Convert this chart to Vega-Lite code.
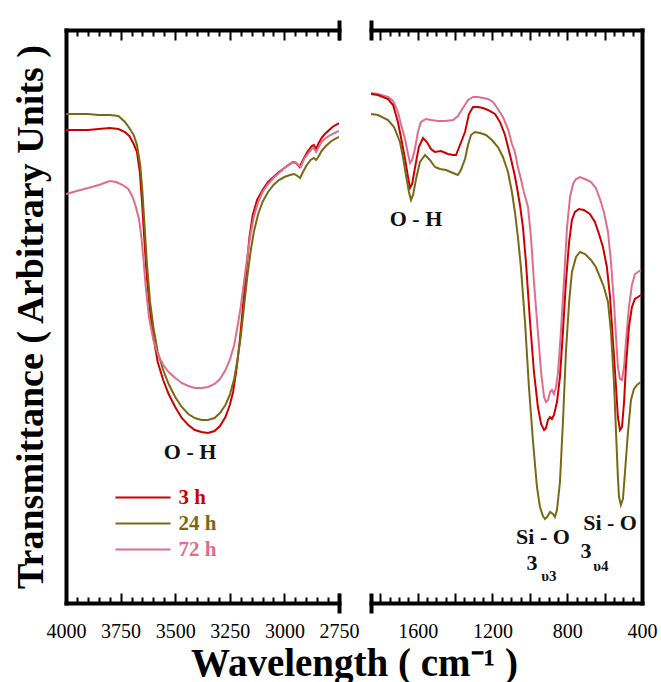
{
  "$schema": "https://vega.github.io/schema/vega-lite/v6.json",
  "background": "white",
  "padding": {"left": 11, "top": 18, "right": 5, "bottom": 0},
  "spacing": 32,
  "bounds": "flush",
  "config": {"view": {"stroke": null}, "font": "Liberation Serif", "axis": {"grid": false, "labelFont": "Liberation Serif", "titleFont": "Liberation Serif"}, "legend": {"labelFont": "Liberation Serif"}},
  "datasets": {
    "left": [
      {"s":"3 h","w":4000,"t":473},{"s":"3 h","w":3950,"t":473},{"s":"3 h","w":3900,"t":473},{"s":"3 h","w":3850,"t":474},{"s":"3 h","w":3800,"t":475},{"s":"3 h","w":3760,"t":474},{"s":"3 h","w":3730,"t":471},{"s":"3 h","w":3710,"t":467},{"s":"3 h","w":3690,"t":459},{"s":"3 h","w":3675,"t":451},{"s":"3 h","w":3662,"t":431},{"s":"3 h","w":3652,"t":401},{"s":"3 h","w":3642,"t":366},{"s":"3 h","w":3630,"t":326},{"s":"3 h","w":3615,"t":291},{"s":"3 h","w":3600,"t":266},{"s":"3 h","w":3580,"t":241},{"s":"3 h","w":3555,"t":223},{"s":"3 h","w":3530,"t":209},{"s":"3 h","w":3500,"t":196},{"s":"3 h","w":3470,"t":185},{"s":"3 h","w":3440,"t":178},{"s":"3 h","w":3410,"t":173},{"s":"3 h","w":3380,"t":171},{"s":"3 h","w":3350,"t":170},{"s":"3 h","w":3320,"t":172},{"s":"3 h","w":3295,"t":177},{"s":"3 h","w":3270,"t":186},{"s":"3 h","w":3250,"t":198},{"s":"3 h","w":3235,"t":211},{"s":"3 h","w":3220,"t":233},{"s":"3 h","w":3205,"t":261},{"s":"3 h","w":3190,"t":296},{"s":"3 h","w":3175,"t":331},{"s":"3 h","w":3160,"t":366},{"s":"3 h","w":3145,"t":388},{"s":"3 h","w":3125,"t":403},{"s":"3 h","w":3100,"t":413},{"s":"3 h","w":3075,"t":421},{"s":"3 h","w":3050,"t":426},{"s":"3 h","w":3025,"t":431},{"s":"3 h","w":3000,"t":435},{"s":"3 h","w":2975,"t":439},{"s":"3 h","w":2960,"t":441},{"s":"3 h","w":2945,"t":440},{"s":"3 h","w":2930,"t":436},{"s":"3 h","w":2915,"t":443},{"s":"3 h","w":2895,"t":451},{"s":"3 h","w":2875,"t":457},{"s":"3 h","w":2865,"t":458},{"s":"3 h","w":2855,"t":454},{"s":"3 h","w":2845,"t":459},{"s":"3 h","w":2830,"t":465},{"s":"3 h","w":2815,"t":469},{"s":"3 h","w":2800,"t":472},{"s":"3 h","w":2780,"t":476},{"s":"3 h","w":2750,"t":480},
      {"s":"24 h","w":4000,"t":489},{"s":"24 h","w":3950,"t":489},{"s":"24 h","w":3900,"t":489},{"s":"24 h","w":3850,"t":488},{"s":"24 h","w":3800,"t":488},{"s":"24 h","w":3760,"t":487},{"s":"24 h","w":3730,"t":481},{"s":"24 h","w":3710,"t":475},{"s":"24 h","w":3690,"t":468},{"s":"24 h","w":3675,"t":458},{"s":"24 h","w":3660,"t":438},{"s":"24 h","w":3650,"t":411},{"s":"24 h","w":3640,"t":376},{"s":"24 h","w":3630,"t":341},{"s":"24 h","w":3615,"t":301},{"s":"24 h","w":3600,"t":276},{"s":"24 h","w":3580,"t":251},{"s":"24 h","w":3555,"t":233},{"s":"24 h","w":3530,"t":219},{"s":"24 h","w":3500,"t":206},{"s":"24 h","w":3470,"t":196},{"s":"24 h","w":3440,"t":189},{"s":"24 h","w":3410,"t":185},{"s":"24 h","w":3380,"t":183},{"s":"24 h","w":3350,"t":183},{"s":"24 h","w":3320,"t":185},{"s":"24 h","w":3295,"t":190},{"s":"24 h","w":3270,"t":198},{"s":"24 h","w":3250,"t":208},{"s":"24 h","w":3230,"t":224},{"s":"24 h","w":3215,"t":243},{"s":"24 h","w":3200,"t":266},{"s":"24 h","w":3185,"t":296},{"s":"24 h","w":3170,"t":326},{"s":"24 h","w":3155,"t":351},{"s":"24 h","w":3140,"t":371},{"s":"24 h","w":3120,"t":389},{"s":"24 h","w":3100,"t":401},{"s":"24 h","w":3075,"t":411},{"s":"24 h","w":3050,"t":418},{"s":"24 h","w":3025,"t":423},{"s":"24 h","w":3000,"t":426},{"s":"24 h","w":2975,"t":428},{"s":"24 h","w":2955,"t":429},{"s":"24 h","w":2940,"t":427},{"s":"24 h","w":2928,"t":425},{"s":"24 h","w":2915,"t":431},{"s":"24 h","w":2900,"t":437},{"s":"24 h","w":2880,"t":443},{"s":"24 h","w":2865,"t":445},{"s":"24 h","w":2855,"t":443},{"s":"24 h","w":2845,"t":446},{"s":"24 h","w":2830,"t":452},{"s":"24 h","w":2810,"t":457},{"s":"24 h","w":2790,"t":461},{"s":"24 h","w":2770,"t":464},{"s":"24 h","w":2750,"t":466},
      {"s":"72 h","w":4000,"t":409},{"s":"72 h","w":3950,"t":412},{"s":"72 h","w":3900,"t":415},{"s":"72 h","w":3850,"t":418},{"s":"72 h","w":3800,"t":422},{"s":"72 h","w":3770,"t":421},{"s":"72 h","w":3740,"t":418},{"s":"72 h","w":3715,"t":414},{"s":"72 h","w":3695,"t":406},{"s":"72 h","w":3680,"t":396},{"s":"72 h","w":3665,"t":383},{"s":"72 h","w":3655,"t":366},{"s":"72 h","w":3645,"t":343},{"s":"72 h","w":3635,"t":316},{"s":"72 h","w":3620,"t":286},{"s":"72 h","w":3600,"t":263},{"s":"72 h","w":3580,"t":249},{"s":"72 h","w":3555,"t":238},{"s":"72 h","w":3530,"t":231},{"s":"72 h","w":3500,"t":225},{"s":"72 h","w":3470,"t":220},{"s":"72 h","w":3440,"t":217},{"s":"72 h","w":3410,"t":215},{"s":"72 h","w":3380,"t":215},{"s":"72 h","w":3350,"t":216},{"s":"72 h","w":3320,"t":219},{"s":"72 h","w":3295,"t":224},{"s":"72 h","w":3270,"t":233},{"s":"72 h","w":3250,"t":243},{"s":"72 h","w":3230,"t":258},{"s":"72 h","w":3215,"t":276},{"s":"72 h","w":3200,"t":296},{"s":"72 h","w":3185,"t":321},{"s":"72 h","w":3170,"t":346},{"s":"72 h","w":3155,"t":369},{"s":"72 h","w":3140,"t":386},{"s":"72 h","w":3120,"t":401},{"s":"72 h","w":3100,"t":411},{"s":"72 h","w":3075,"t":419},{"s":"72 h","w":3050,"t":425},{"s":"72 h","w":3025,"t":430},{"s":"72 h","w":3000,"t":435},{"s":"72 h","w":2980,"t":438},{"s":"72 h","w":2965,"t":440},{"s":"72 h","w":2950,"t":441},{"s":"72 h","w":2935,"t":438},{"s":"72 h","w":2925,"t":436},{"s":"72 h","w":2910,"t":444},{"s":"72 h","w":2890,"t":450},{"s":"72 h","w":2875,"t":454},{"s":"72 h","w":2865,"t":455},{"s":"72 h","w":2855,"t":451},{"s":"72 h","w":2845,"t":455},{"s":"72 h","w":2830,"t":461},{"s":"72 h","w":2810,"t":465},{"s":"72 h","w":2790,"t":468},{"s":"72 h","w":2770,"t":470},{"s":"72 h","w":2750,"t":472}
    ],
    "right": [
      {"s":"72 h","w":1850,"t":510},{"s":"72 h","w":1813,"t":509},{"s":"72 h","w":1759,"t":506},{"s":"72 h","w":1732,"t":502},{"s":"72 h","w":1706,"t":491},{"s":"72 h","w":1690,"t":479},{"s":"72 h","w":1668,"t":464},{"s":"72 h","w":1652,"t":449},{"s":"72 h","w":1641,"t":440},{"s":"72 h","w":1630,"t":443},{"s":"72 h","w":1615,"t":454},{"s":"72 h","w":1599,"t":471},{"s":"72 h","w":1583,"t":481},{"s":"72 h","w":1556,"t":484},{"s":"72 h","w":1529,"t":483},{"s":"72 h","w":1492,"t":482},{"s":"72 h","w":1454,"t":482},{"s":"72 h","w":1411,"t":483},{"s":"72 h","w":1385,"t":487},{"s":"72 h","w":1358,"t":495},{"s":"72 h","w":1331,"t":503},{"s":"72 h","w":1304,"t":506},{"s":"72 h","w":1278,"t":506},{"s":"72 h","w":1251,"t":505},{"s":"72 h","w":1224,"t":504},{"s":"72 h","w":1197,"t":501},{"s":"72 h","w":1171,"t":494},{"s":"72 h","w":1144,"t":486},{"s":"72 h","w":1117,"t":474},{"s":"72 h","w":1096,"t":459},{"s":"72 h","w":1080,"t":451},{"s":"72 h","w":1064,"t":436},{"s":"72 h","w":1048,"t":424},{"s":"72 h","w":1032,"t":411},{"s":"72 h","w":1010,"t":396},{"s":"72 h","w":994,"t":366},{"s":"72 h","w":978,"t":321},{"s":"72 h","w":957,"t":271},{"s":"72 h","w":940,"t":231},{"s":"72 h","w":924,"t":206},{"s":"72 h","w":914,"t":201},{"s":"72 h","w":903,"t":203},{"s":"72 h","w":892,"t":211},{"s":"72 h","w":882,"t":213},{"s":"72 h","w":871,"t":209},{"s":"72 h","w":860,"t":216},{"s":"72 h","w":849,"t":231},{"s":"72 h","w":834,"t":271},{"s":"72 h","w":818,"t":321},{"s":"72 h","w":801,"t":376},{"s":"72 h","w":785,"t":406},{"s":"72 h","w":769,"t":419},{"s":"72 h","w":753,"t":424},{"s":"72 h","w":732,"t":426},{"s":"72 h","w":705,"t":424},{"s":"72 h","w":673,"t":421},{"s":"72 h","w":647,"t":415},{"s":"72 h","w":625,"t":404},{"s":"72 h","w":604,"t":391},{"s":"72 h","w":582,"t":371},{"s":"72 h","w":566,"t":341},{"s":"72 h","w":550,"t":301},{"s":"72 h","w":539,"t":266},{"s":"72 h","w":529,"t":236},{"s":"72 h","w":518,"t":224},{"s":"72 h","w":507,"t":223},{"s":"72 h","w":496,"t":236},{"s":"72 h","w":486,"t":261},{"s":"72 h","w":470,"t":296},{"s":"72 h","w":454,"t":318},{"s":"72 h","w":438,"t":329},{"s":"72 h","w":422,"t":331},{"s":"72 h","w":405,"t":333},
      {"s":"3 h","w":1850,"t":509},{"s":"3 h","w":1813,"t":508},{"s":"3 h","w":1759,"t":504},{"s":"3 h","w":1732,"t":498},{"s":"3 h","w":1706,"t":481},{"s":"3 h","w":1690,"t":466},{"s":"3 h","w":1668,"t":444},{"s":"3 h","w":1652,"t":426},{"s":"3 h","w":1641,"t":415},{"s":"3 h","w":1630,"t":419},{"s":"3 h","w":1609,"t":441},{"s":"3 h","w":1594,"t":456},{"s":"3 h","w":1572,"t":465},{"s":"3 h","w":1551,"t":461},{"s":"3 h","w":1529,"t":454},{"s":"3 h","w":1508,"t":451},{"s":"3 h","w":1476,"t":452},{"s":"3 h","w":1438,"t":449},{"s":"3 h","w":1411,"t":448},{"s":"3 h","w":1395,"t":448},{"s":"3 h","w":1374,"t":458},{"s":"3 h","w":1347,"t":471},{"s":"3 h","w":1326,"t":489},{"s":"3 h","w":1304,"t":496},{"s":"3 h","w":1278,"t":496},{"s":"3 h","w":1251,"t":495},{"s":"3 h","w":1224,"t":493},{"s":"3 h","w":1187,"t":489},{"s":"3 h","w":1160,"t":481},{"s":"3 h","w":1133,"t":468},{"s":"3 h","w":1117,"t":456},{"s":"3 h","w":1101,"t":444},{"s":"3 h","w":1085,"t":431},{"s":"3 h","w":1074,"t":421},{"s":"3 h","w":1053,"t":398},{"s":"3 h","w":1037,"t":376},{"s":"3 h","w":1021,"t":341},{"s":"3 h","w":999,"t":281},{"s":"3 h","w":978,"t":231},{"s":"3 h","w":957,"t":196},{"s":"3 h","w":940,"t":179},{"s":"3 h","w":924,"t":173},{"s":"3 h","w":914,"t":175},{"s":"3 h","w":903,"t":183},{"s":"3 h","w":892,"t":186},{"s":"3 h","w":882,"t":184},{"s":"3 h","w":871,"t":188},{"s":"3 h","w":855,"t":201},{"s":"3 h","w":839,"t":226},{"s":"3 h","w":823,"t":271},{"s":"3 h","w":807,"t":321},{"s":"3 h","w":790,"t":361},{"s":"3 h","w":775,"t":383},{"s":"3 h","w":759,"t":391},{"s":"3 h","w":737,"t":394},{"s":"3 h","w":711,"t":393},{"s":"3 h","w":679,"t":389},{"s":"3 h","w":652,"t":381},{"s":"3 h","w":630,"t":369},{"s":"3 h","w":609,"t":356},{"s":"3 h","w":588,"t":336},{"s":"3 h","w":571,"t":306},{"s":"3 h","w":555,"t":261},{"s":"3 h","w":539,"t":216},{"s":"3 h","w":529,"t":186},{"s":"3 h","w":518,"t":173},{"s":"3 h","w":507,"t":176},{"s":"3 h","w":496,"t":201},{"s":"3 h","w":486,"t":236},{"s":"3 h","w":470,"t":276},{"s":"3 h","w":454,"t":296},{"s":"3 h","w":438,"t":304},{"s":"3 h","w":422,"t":306},{"s":"3 h","w":405,"t":308},
      {"s":"24 h","w":1850,"t":489},{"s":"24 h","w":1813,"t":488},{"s":"24 h","w":1759,"t":483},{"s":"24 h","w":1727,"t":476},{"s":"24 h","w":1695,"t":461},{"s":"24 h","w":1679,"t":446},{"s":"24 h","w":1663,"t":428},{"s":"24 h","w":1647,"t":411},{"s":"24 h","w":1636,"t":403},{"s":"24 h","w":1625,"t":408},{"s":"24 h","w":1609,"t":424},{"s":"24 h","w":1588,"t":441},{"s":"24 h","w":1561,"t":448},{"s":"24 h","w":1535,"t":443},{"s":"24 h","w":1508,"t":436},{"s":"24 h","w":1481,"t":434},{"s":"24 h","w":1449,"t":433},{"s":"24 h","w":1411,"t":430},{"s":"24 h","w":1385,"t":428},{"s":"24 h","w":1369,"t":433},{"s":"24 h","w":1347,"t":444},{"s":"24 h","w":1331,"t":458},{"s":"24 h","w":1315,"t":468},{"s":"24 h","w":1294,"t":471},{"s":"24 h","w":1267,"t":470},{"s":"24 h","w":1235,"t":468},{"s":"24 h","w":1203,"t":463},{"s":"24 h","w":1171,"t":456},{"s":"24 h","w":1144,"t":446},{"s":"24 h","w":1117,"t":431},{"s":"24 h","w":1096,"t":411},{"s":"24 h","w":1080,"t":391},{"s":"24 h","w":1064,"t":366},{"s":"24 h","w":1048,"t":336},{"s":"24 h","w":1026,"t":281},{"s":"24 h","w":1005,"t":216},{"s":"24 h","w":983,"t":161},{"s":"24 h","w":962,"t":116},{"s":"24 h","w":946,"t":96},{"s":"24 h","w":930,"t":87},{"s":"24 h","w":919,"t":84},{"s":"24 h","w":908,"t":86},{"s":"24 h","w":892,"t":91},{"s":"24 h","w":876,"t":89},{"s":"24 h","w":866,"t":86},{"s":"24 h","w":855,"t":93},{"s":"24 h","w":839,"t":121},{"s":"24 h","w":823,"t":181},{"s":"24 h","w":807,"t":251},{"s":"24 h","w":790,"t":301},{"s":"24 h","w":775,"t":331},{"s":"24 h","w":753,"t":346},{"s":"24 h","w":732,"t":351},{"s":"24 h","w":705,"t":349},{"s":"24 h","w":673,"t":343},{"s":"24 h","w":647,"t":336},{"s":"24 h","w":625,"t":326},{"s":"24 h","w":604,"t":316},{"s":"24 h","w":582,"t":301},{"s":"24 h","w":566,"t":271},{"s":"24 h","w":550,"t":221},{"s":"24 h","w":539,"t":171},{"s":"24 h","w":529,"t":126},{"s":"24 h","w":523,"t":106},{"s":"24 h","w":513,"t":98},{"s":"24 h","w":502,"t":104},{"s":"24 h","w":491,"t":131},{"s":"24 h","w":475,"t":171},{"s":"24 h","w":459,"t":203},{"s":"24 h","w":443,"t":214},{"s":"24 h","w":427,"t":218},{"s":"24 h","w":406,"t":221}
    ],
    "notesL": [{"w":3432,"t":151,"label":"O - H"}],
    "notesR": [{"w":1609,"t":384,"label":"O - H"},{"w":930,"t":66,"label":"Si - O"},{"w":989,"t":40,"label":"3"},{"w":571,"t":80,"label":"Si - O"},{"w":700,"t":52,"label":"3"}],
    "subsR": [{"w":898,"t":27,"label":"υ3"},{"w":620,"t":37,"label":"υ4"}]
  },
  "hconcat": [
    {
      "width": 273,
      "height": 573,
      "resolve": {"axis": {"x": "independent"}},
      "layer": [
        {
          "data": {"name": "left"},
          "mark": {"type": "line", "strokeWidth": 2, "clip": true},
          "encoding": {
            "x": {"field": "w", "type": "quantitative", "scale": {"domain": [2750, 4000], "reverse": true, "nice": false, "zero": false},
              "axis": {"orient": "bottom", "values": [4000, 3750, 3500, 3250, 3000, 2750], "format": "d", "ticks": false, "labels": true, "domain": true, "domainWidth": 4, "domainColor": "black", "domainCap": "square", "labelFont": "Liberation Serif", "labelFontSize": 20, "labelColor": "black", "labelPadding": 18, "labelFlush": false, "labelOverlap": false, "labelBound": false, "grid": false,
                "title": "Wavelength ( cm⁻¹ )", "titleFont": "Liberation Serif", "titleFontSize": 39, "titleFontWeight": "bold", "titleColor": "black", "titleX": 288, "titleY": 72, "titleAlign": "center", "titleBaseline": "alphabetic"}},
            "y": {"field": "t", "type": "quantitative", "scale": {"domain": [0, 573], "nice": false, "zero": false},
              "axis": {"orient": "left", "domain": true, "domainWidth": 4, "domainColor": "black", "domainCap": "square", "ticks": false, "labels": false, "grid": false, "title": "Transmittance ( Arbitrary Units )", "titleFont": "Liberation Serif", "titleFontSize": 38, "titleFontWeight": "bold", "titleColor": "black", "titlePadding": 16}},
            "color": {"field": "s", "type": "nominal", "scale": {"domain": ["3 h", "24 h", "72 h"], "range": ["#cc0000", "#7a6914", "#de6e8c"]},
              "legend": {"orient": "none", "legendX": 49, "legendY": 457, "title": null, "symbolType": "M-2.9,0H2.9", "symbolSize": 361, "symbolStrokeWidth": 2, "symbolOffset": 17.5, "labelFont": "Liberation Serif", "labelFontSize": 21, "labelFontWeight": "bold", "labelOffset": 25, "rowPadding": 4, "padding": 0,
                "encode": {"labels": {"update": {"fill": {"signal": "datum.value === '3 h' ? '#cc0000' : datum.value === '24 h' ? '#7a6914' : '#de6e8c'"}}}}}}
          }
        },
        {
          "data": {"values": [{"w": 3000}]},
          "mark": {"type": "point", "opacity": 0},
          "encoding": {"x": {"field": "w", "type": "quantitative", "scale": {"domain": [2750, 4000], "reverse": true, "nice": false, "zero": false},
            "axis": {"orient": "bottom", "values": [4000, 3750, 3500, 3250, 3000, 2750], "tickSize": -10, "tickWidth": 2, "tickColor": "black", "labels": false, "domain": false, "grid": false, "title": null}}}
        },
        {
          "data": {"values": [{"w": 3000}]},
          "mark": {"type": "point", "opacity": 0},
          "encoding": {"x": {"field": "w", "type": "quantitative", "scale": {"domain": [2750, 4000], "reverse": true, "nice": false, "zero": false},
            "axis": {"orient": "bottom", "values": [3950, 3900, 3850, 3800, 3700, 3650, 3600, 3550, 3450, 3400, 3350, 3300, 3200, 3150, 3100, 3050, 2950, 2900, 2850, 2800], "tickSize": -6, "tickWidth": 2, "tickColor": "black", "labels": false, "domain": false, "grid": false, "title": null}}}
        },
        {
          "data": {"values": [{"w": 3000}]},
          "mark": {"type": "point", "opacity": 0},
          "encoding": {"x": {"field": "w", "type": "quantitative", "scale": {"domain": [2750, 4000], "reverse": true, "nice": false, "zero": false},
            "axis": {"orient": "top", "values": [4000, 3750, 3500, 3250, 3000, 2750], "tickSize": -10, "tickWidth": 2, "tickColor": "black", "labels": false, "domain": true, "domainWidth": 4, "domainColor": "black", "domainCap": "square", "grid": false, "title": null}}}
        },
        {
          "data": {"values": [{"w": 3000}]},
          "mark": {"type": "point", "opacity": 0},
          "encoding": {"x": {"field": "w", "type": "quantitative", "scale": {"domain": [2750, 4000], "reverse": true, "nice": false, "zero": false},
            "axis": {"orient": "top", "values": [3950, 3900, 3850, 3800, 3700, 3650, 3600, 3550, 3450, 3400, 3350, 3300, 3200, 3150, 3100, 3050, 2950, 2900, 2850, 2800], "tickSize": -6, "tickWidth": 2, "tickColor": "black", "labels": false, "domain": false, "grid": false, "title": null}}}
        },
        {
          "data": {"values": [{"w": 3000}]},
          "mark": {"type": "point", "opacity": 0},
          "encoding": {"x": {"field": "w", "type": "quantitative", "scale": {"domain": [2750, 4000], "reverse": true, "nice": false, "zero": false},
            "axis": {"orient": "bottom", "values": [2750], "offset": -10, "tickSize": 20, "tickWidth": 4, "tickColor": "black", "labels": false, "domain": false, "grid": false, "title": null}}}
        },
        {
          "data": {"values": [{"w": 3000}]},
          "mark": {"type": "point", "opacity": 0},
          "encoding": {"x": {"field": "w", "type": "quantitative", "scale": {"domain": [2750, 4000], "reverse": true, "nice": false, "zero": false},
            "axis": {"orient": "top", "values": [2750], "offset": -10, "tickSize": 20, "tickWidth": 4, "tickColor": "black", "labels": false, "domain": false, "grid": false, "title": null}}}
        },
        {
          "data": {"name": "notesL"},
          "mark": {"type": "text", "font": "Liberation Serif", "fontSize": 22, "fontWeight": "bold", "color": "#111111", "align": "center", "baseline": "middle"},
          "encoding": {
            "x": {"field": "w", "type": "quantitative", "scale": {"domain": [2750, 4000], "reverse": true, "nice": false, "zero": false}, "axis": null},
            "y": {"field": "t", "type": "quantitative"},
            "text": {"field": "label"}
          }
        }
      ]
    },
    {
      "width": 271,
      "height": 573,
      "resolve": {"axis": {"x": "independent"}},
      "layer": [
        {
          "data": {"name": "right"},
          "mark": {"type": "line", "strokeWidth": 2, "clip": true},
          "encoding": {
            "x": {"field": "w", "type": "quantitative", "scale": {"domain": [400, 1850], "reverse": true, "nice": false, "zero": false},
              "axis": {"orient": "bottom", "values": [1600, 1200, 800, 400], "format": "d", "ticks": false, "labels": true, "domain": true, "domainWidth": 4, "domainColor": "black", "domainCap": "square", "labelFont": "Liberation Serif", "labelFontSize": 20, "labelColor": "black", "labelPadding": 18, "labelFlush": false, "labelOverlap": false, "labelBound": false, "title": null, "grid": false}},
            "y": {"field": "t", "type": "quantitative", "scale": {"domain": [0, 573], "nice": false, "zero": false},
              "axis": {"orient": "right", "domain": true, "domainWidth": 4, "domainColor": "black", "domainCap": "square", "ticks": false, "labels": false, "grid": false, "title": null}},
            "color": {"field": "s", "type": "nominal", "scale": {"domain": ["3 h", "24 h", "72 h"], "range": ["#cc0000", "#7a6914", "#de6e8c"]}, "legend": null}
          }
        },
        {
          "data": {"values": [{"w": 1000}]},
          "mark": {"type": "point", "opacity": 0},
          "encoding": {"x": {"field": "w", "type": "quantitative", "scale": {"domain": [400, 1850], "reverse": true, "nice": false, "zero": false},
            "axis": {"orient": "bottom", "values": [1800, 1600, 1400, 1200, 1000, 800, 600, 400], "tickSize": -10, "tickWidth": 2, "tickColor": "black", "labels": false, "domain": false, "grid": false, "title": null}}}
        },
        {
          "data": {"values": [{"w": 1000}]},
          "mark": {"type": "point", "opacity": 0},
          "encoding": {"x": {"field": "w", "type": "quantitative", "scale": {"domain": [400, 1850], "reverse": true, "nice": false, "zero": false},
            "axis": {"orient": "bottom", "values": [1750, 1700, 1650, 1550, 1500, 1450, 1350, 1300, 1250, 1150, 1100, 1050, 950, 900, 850, 750, 700, 650, 550, 500, 450], "tickSize": -6, "tickWidth": 2, "tickColor": "black", "labels": false, "domain": false, "grid": false, "title": null}}}
        },
        {
          "data": {"values": [{"w": 1000}]},
          "mark": {"type": "point", "opacity": 0},
          "encoding": {"x": {"field": "w", "type": "quantitative", "scale": {"domain": [400, 1850], "reverse": true, "nice": false, "zero": false},
            "axis": {"orient": "top", "values": [1800, 1600, 1400, 1200, 1000, 800, 600, 400], "tickSize": -10, "tickWidth": 2, "tickColor": "black", "labels": false, "domain": true, "domainWidth": 4, "domainColor": "black", "domainCap": "square", "grid": false, "title": null}}}
        },
        {
          "data": {"values": [{"w": 1000}]},
          "mark": {"type": "point", "opacity": 0},
          "encoding": {"x": {"field": "w", "type": "quantitative", "scale": {"domain": [400, 1850], "reverse": true, "nice": false, "zero": false},
            "axis": {"orient": "top", "values": [1750, 1700, 1650, 1550, 1500, 1450, 1350, 1300, 1250, 1150, 1100, 1050, 950, 900, 850, 750, 700, 650, 550, 500, 450], "tickSize": -6, "tickWidth": 2, "tickColor": "black", "labels": false, "domain": false, "grid": false, "title": null}}}
        },
        {
          "data": {"values": [{"w": 1000}]},
          "mark": {"type": "point", "opacity": 0},
          "encoding": {"x": {"field": "w", "type": "quantitative", "scale": {"domain": [400, 1850], "reverse": true, "nice": false, "zero": false},
            "axis": {"orient": "bottom", "values": [1850], "offset": -10, "tickSize": 20, "tickWidth": 4, "tickColor": "black", "labels": false, "domain": false, "grid": false, "title": null}}}
        },
        {
          "data": {"values": [{"w": 1000}]},
          "mark": {"type": "point", "opacity": 0},
          "encoding": {"x": {"field": "w", "type": "quantitative", "scale": {"domain": [400, 1850], "reverse": true, "nice": false, "zero": false},
            "axis": {"orient": "top", "values": [1850], "offset": -10, "tickSize": 20, "tickWidth": 4, "tickColor": "black", "labels": false, "domain": false, "grid": false, "title": null}}}
        },
        {
          "data": {"name": "notesR"},
          "mark": {"type": "text", "font": "Liberation Serif", "fontSize": 22, "fontWeight": "bold", "color": "#111111", "align": "center", "baseline": "middle"},
          "encoding": {
            "x": {"field": "w", "type": "quantitative", "scale": {"domain": [400, 1850], "reverse": true, "nice": false, "zero": false}, "axis": null},
            "y": {"field": "t", "type": "quantitative"},
            "text": {"field": "label"}
          }
        },
        {
          "data": {"name": "subsR"},
          "mark": {"type": "text", "font": "Liberation Serif", "fontSize": 15, "fontWeight": "bold", "color": "#111111", "align": "center", "baseline": "middle"},
          "encoding": {
            "x": {"field": "w", "type": "quantitative", "scale": {"domain": [400, 1850], "reverse": true, "nice": false, "zero": false}, "axis": null},
            "y": {"field": "t", "type": "quantitative"},
            "text": {"field": "label"}
          }
        }
      ]
    }
  ],
  "resolve": {"scale": {"color": "independent", "x": "independent", "y": "independent"}, "legend": {"color": "independent"}}
}
